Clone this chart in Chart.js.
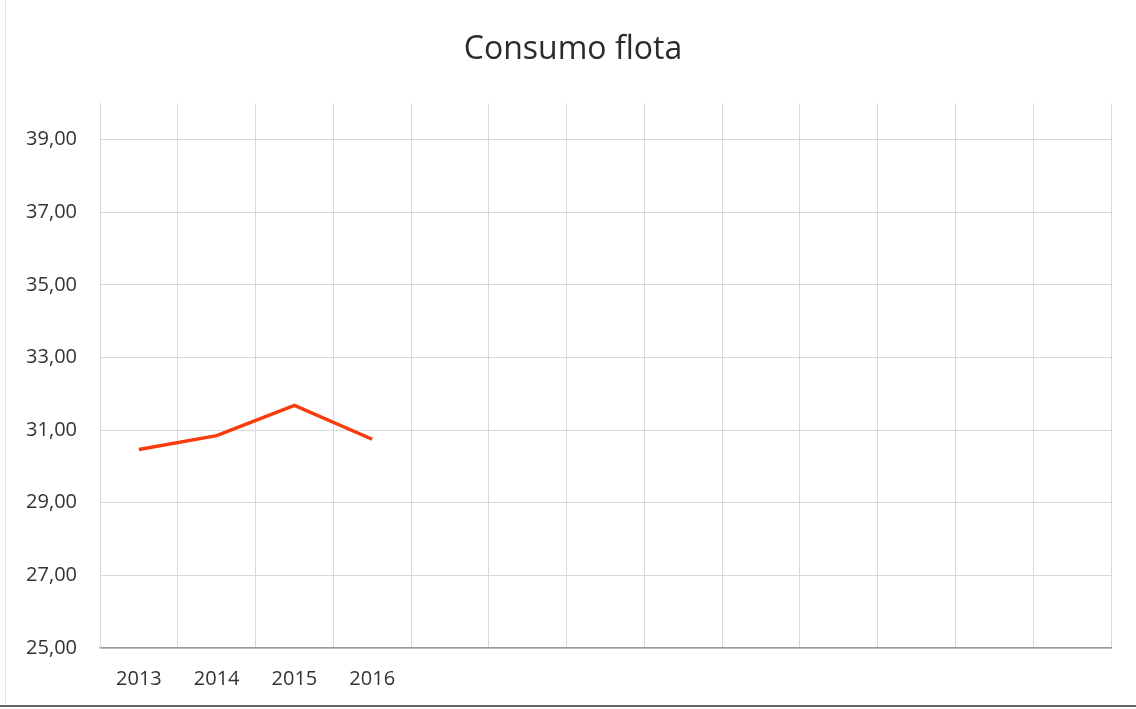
<!DOCTYPE html>
<html>
<head>
<meta charset="utf-8">
<script src="https://cdn.jsdelivr.net/npm/chart.js@4/dist/chart.umd.min.js"></script>
<style>
  html, body { margin: 0; padding: 0; background: #fff; }
  #wrap { position: relative; width: 1136px; height: 709px; }
  #wrap:before { content: ''; position: absolute; left: 5px; top: 0; bottom: 4px; border-left: 1px solid #e2e2e2; }
  #wrap:after { content: ''; position: absolute; left: 0; right: 0; bottom: 2px; border-bottom: 2px solid #666; }
</style>
</head>
<body>
<div id="wrap"><canvas id="consumoChart" width="1136" height="709"></canvas></div>
<script>
  // Datos
  const years = ['2013', '2014', '2015', '2016', '', '', '', '', '', '', '', '', ''];
  const consumo = [30.47, 30.85, 31.68, 30.75, null, null, null, null, null, null, null, null, null];
  const yTicks = [25, 27, 29, 31, 33, 35, 37, 39];

  const fuente = "'Open Sans', 'Noto Sans', sans-serif";

  // Formato de número con coma decimal
  function formatNum(v) {
    return Number(v).toFixed(2).replace('.', ',');
  }

  new Chart(document.getElementById('consumoChart'), {
    type: 'line',
    data: {
      labels: years,
      datasets: [{
        data: consumo,
        borderColor: '#fa3c0c',
        borderWidth: 3.5,
        pointRadius: 0,
        tension: 0,
        fill: false
      }]
    },
    options: {
      responsive: false,
      animation: false,
      layout: { padding: { left: 10, right: 0, top: 0, bottom: 0 } },
      plugins: {
        legend: { display: false },
        tooltip: { enabled: false },
        title: {
          display: true,
          text: 'Consumo flota',
          color: '#2b2b2b',
          font: { family: fuente, size: 32, weight: 'normal' },
          padding: { top: 31, bottom: 34 }
        }
      },
      scales: {
        x: {
          offset: true,
          grid: { color: '#d9d9d9', lineWidth: 1, offset: true, drawTicks: false },
          border: { color: '#9a9a9a', width: 1.5 },
          ticks: {
            color: '#333',
            font: { family: fuente, size: 20 },
            padding: 19,
            maxRotation: 0,
            autoSkip: false
          },
          afterFit: (scale) => { scale.height = 61; }
        },
        y: {
          min: 25,
          max: 40,
          afterBuildTicks: (scale) => {
            scale.ticks = yTicks.map(v => ({ value: v }));
          },
          grid: { color: '#d9d9d9', lineWidth: 1, drawTicks: false },
          border: { color: '#d9d9d9' },
          ticks: {
            color: '#333',
            font: { family: fuente, size: 20 },
            padding: 23,
            callback: (v) => formatNum(v)
          },
          afterFit: (scale) => { scale.width = 90; }
        },
        // margen derecho vacío
        yDerecha: {
          position: 'right',
          min: 25,
          max: 40,
          grid: { drawOnChartArea: false, drawTicks: false },
          border: { display: false },
          ticks: { display: false },
          afterFit: (scale) => { scale.width = 25; }
        }
      }
    }
  });
</script>
</body>
</html>
